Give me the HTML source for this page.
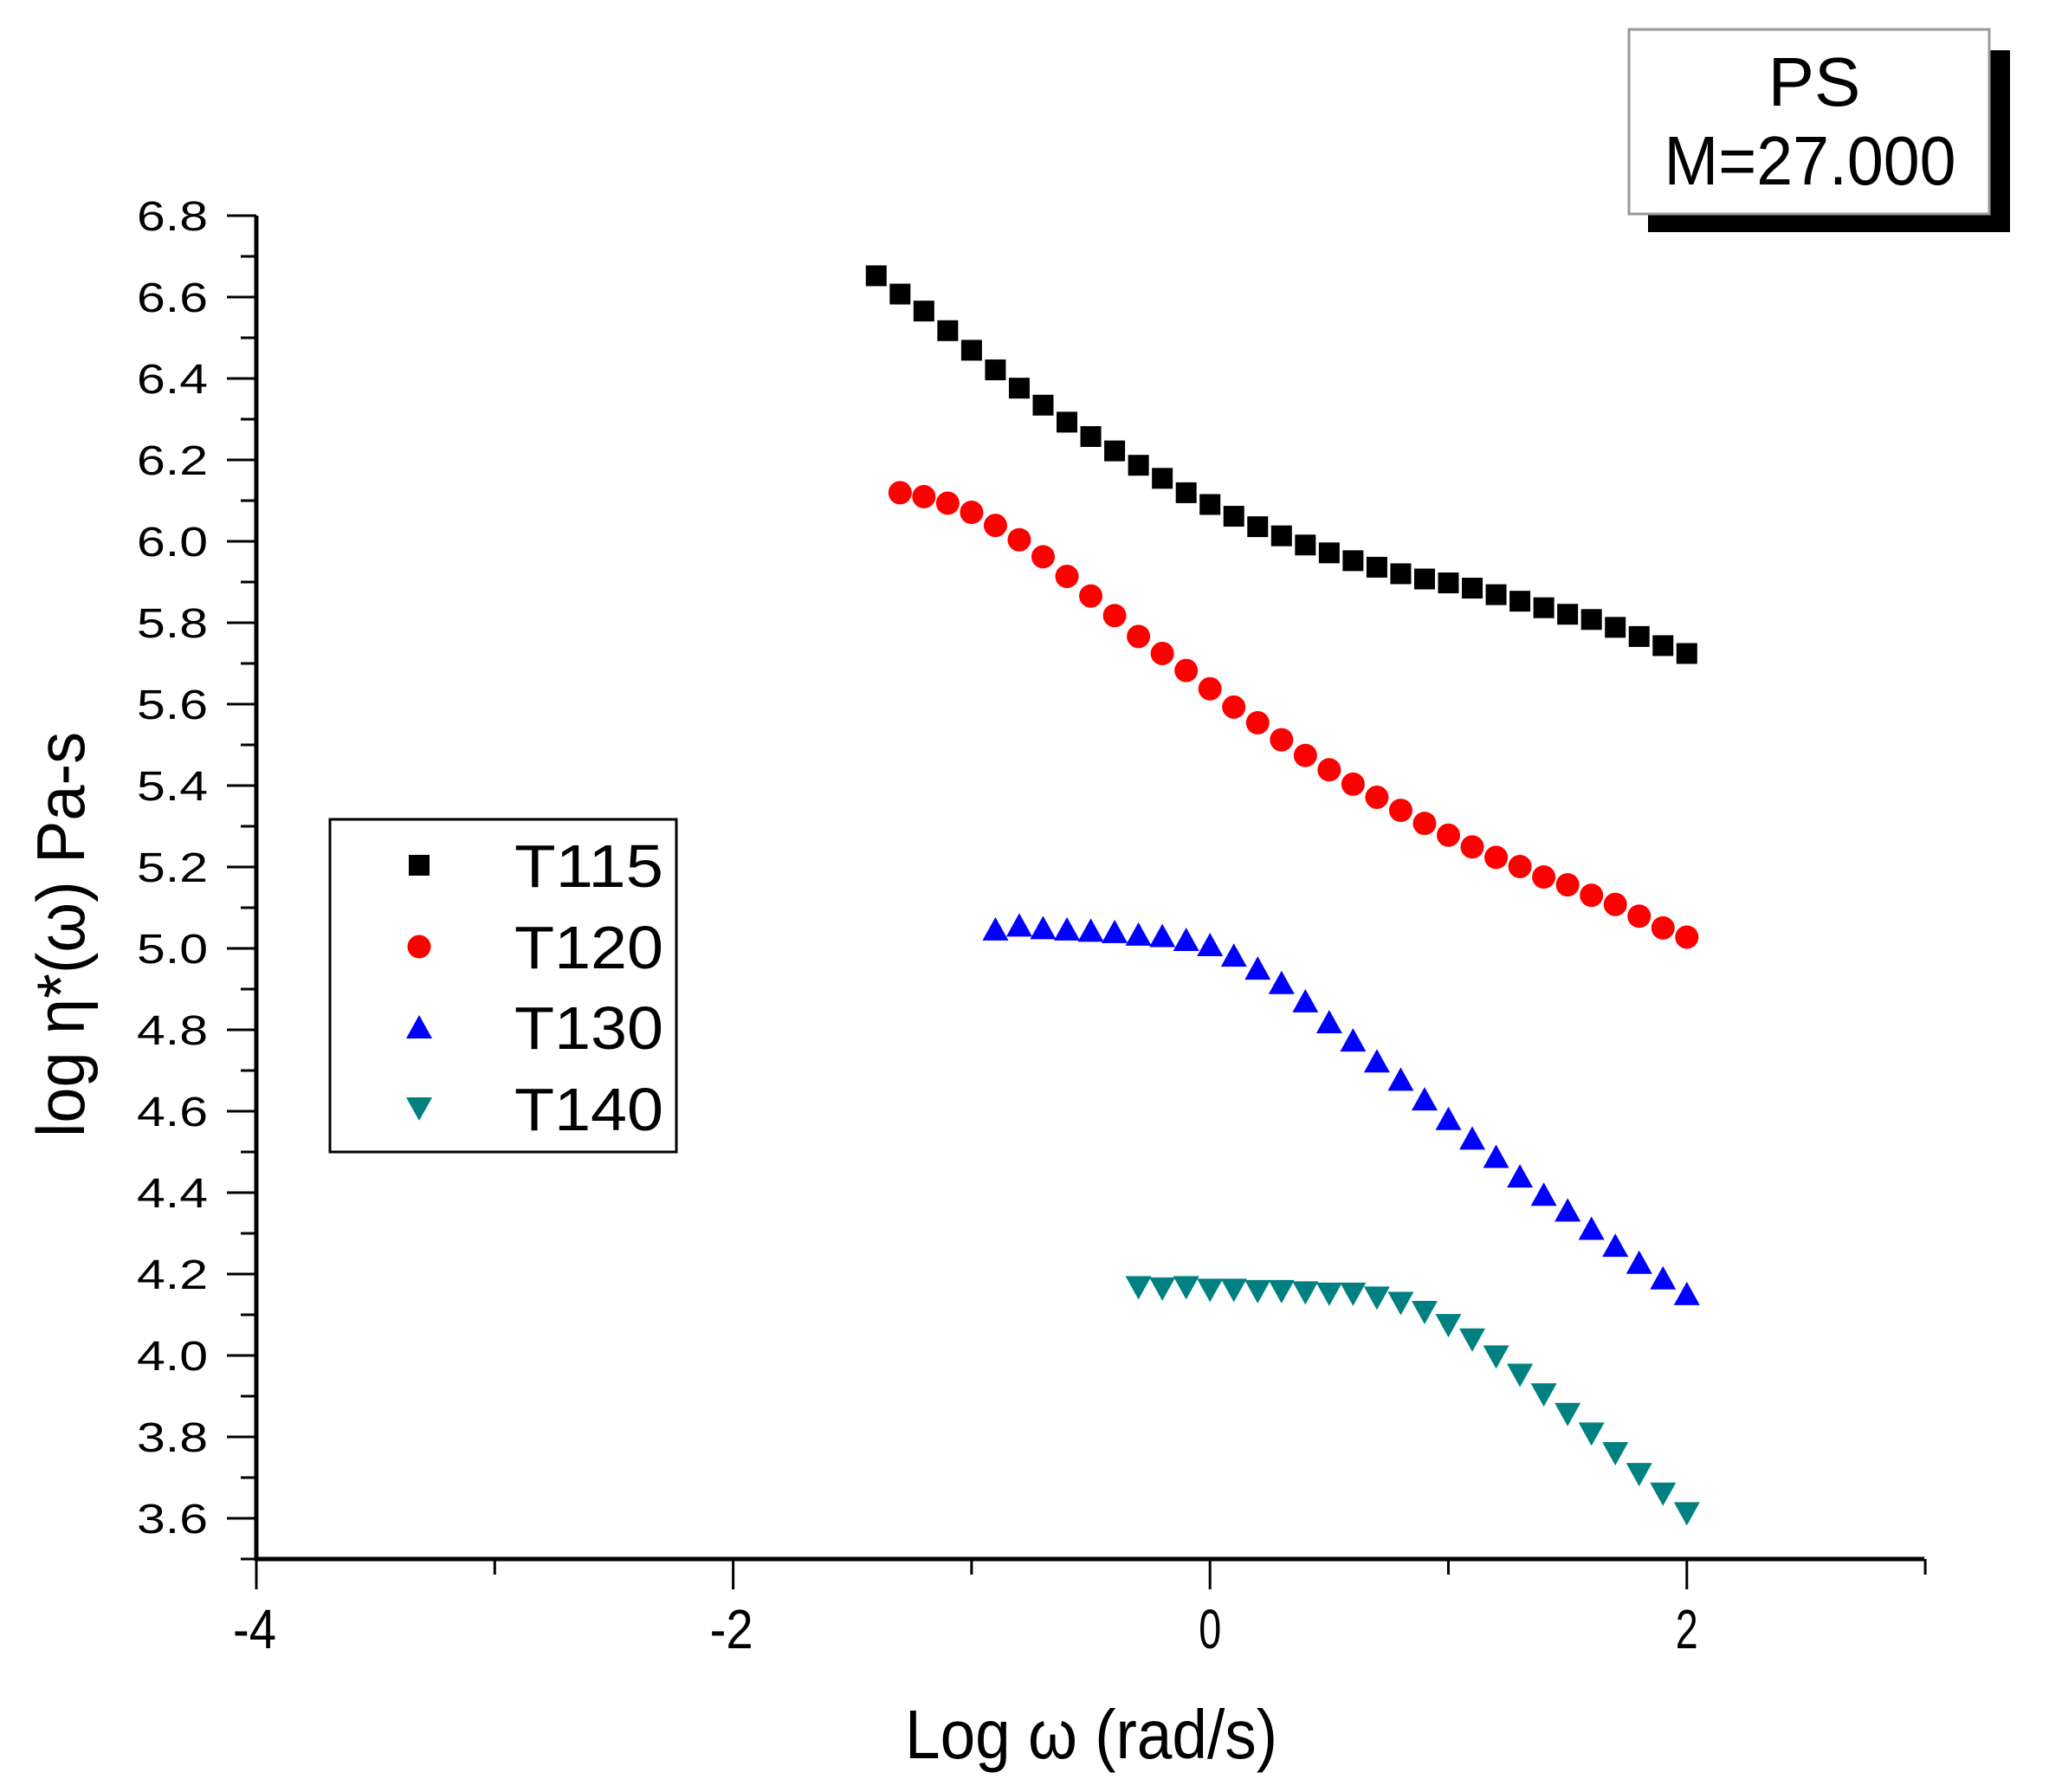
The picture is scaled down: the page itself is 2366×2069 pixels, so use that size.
<!DOCTYPE html>
<html><head><style>body{margin:0;background:#fff}svg{display:block}</style></head>
<body>
<svg width="2366" height="2069" viewBox="0 0 2366 2069" xmlns="http://www.w3.org/2000/svg" font-family="Liberation Sans, sans-serif">
<rect width="2366" height="2069" fill="#fff"/>
<g id="axes" stroke="#000" fill="none">
<line x1="296" y1="249" x2="296" y2="1802" stroke-width="5"/>
<line x1="294" y1="1800" x2="2222" y2="1800" stroke-width="5"/>
</g>
<g id="ticks"></g>
<g id="pts"></g>
<text x="1260" y="2030" font-size="80" text-anchor="middle" textLength="430" lengthAdjust="spacingAndGlyphs">Log ω (rad/s)</text>
<text transform="translate(97,1079) rotate(-90)" font-size="78" text-anchor="middle" textLength="468" lengthAdjust="spacingAndGlyphs">log η*(ω) Pa-s</text>
<rect x="381" y="946" width="400" height="384" fill="#fff" stroke="#000" stroke-width="3"/>
<g font-size="70">
<text x="594" y="1024" textLength="172" lengthAdjust="spacingAndGlyphs">T115</text>
<text x="594" y="1118" textLength="172" lengthAdjust="spacingAndGlyphs">T120</text>
<text x="594" y="1211" textLength="172" lengthAdjust="spacingAndGlyphs">T130</text>
<text x="594" y="1305" textLength="172" lengthAdjust="spacingAndGlyphs">T140</text>
</g>
<g id="leg"></g>
<rect x="1903" y="58" width="418" height="210" fill="#000"/>
<rect x="1881" y="34" width="416" height="213" fill="#fff" stroke="#999" stroke-width="3"/>
<text x="2095" y="122" font-size="80" text-anchor="middle">PS</text>
<text x="2090" y="213" font-size="80" text-anchor="middle" textLength="337" lengthAdjust="spacingAndGlyphs">M=27.000</text>
<script>
const NS="http://www.w3.org/2000/svg";
function el(p,t,a,txt){const e=document.createElementNS(NS,t);for(const k in a)e.setAttribute(k,a[k]);if(txt!==undefined)e.textContent=txt;p.appendChild(e);return e;}
const tk=document.getElementById('ticks');
const Y=v=>1753-(v-3.6)*470, X=v=>296+(v+4)*275.3;
for(let i=0;i<=33;i++){const n=35+i;const v=n/10;const y=Y(v);
 const isMaj=(n%2===0);
 el(tk,'line',{x1:isMaj?262:278,y1:y,x2:296,y2:y,stroke:'#000','stroke-width':3});
 if(isMaj&&n>=36) el(tk,'text',{x:240,y:y+17,'font-size':48,'text-anchor':'end',textLength:82,lengthAdjust:'spacingAndGlyphs'},v.toFixed(1));}
for(let v=-4;v<=3;v++){const x=X(v);const maj=(v%2===0);
 el(tk,'line',{x1:x,y1:1800,x2:x,y2:maj?1835:1818,stroke:'#000','stroke-width':3});
 if(maj) el(tk,'text',{x:x+(v<0?-2:0),y:1903,'font-size':64,'text-anchor':'middle',textLength:v<0?50:26,lengthAdjust:'spacingAndGlyphs'},String(v));}
const s=1.509;
const d115=[211,225,238,253,268,283,297,310,323,334,345,356,366,377,386,395,403,410,417,423,429,434,439,443,446,450,455,460,465,470,474,480,487,494,500];
const d120=[377,380,385,392,402,413,426,441,456,471,487,500,513,527,541,553,566,578,589,600,610,620,630,639,648,656,663,671,677,685,692,701,710,717];
const d130=[711,708,710,711,712,713,715,716,719,723,731,741,752,766,782,796,812,826,841,856,871,885,900,914,926,940,953,966,978,990];
const d140=[985,986,985,987,987,988,988,989,990,990,993,997,1004,1014,1025,1038,1052,1067,1082,1097,1112,1128,1143,1158];
const g=document.getElementById('pts');
function mk(p,type,x,y){
 if(type==0) el(p,'rect',{x:x-12,y:y-12,width:24,height:24,fill:'#000'});
 else if(type==1) el(p,'circle',{cx:x,cy:y,r:13.5,fill:'#f00'});
 else if(type==2) el(p,'polygon',{points:`${x-15},${y+13} ${x+15},${y+13} ${x},${y-14}`,fill:'#00f'});
 else el(p,'polygon',{points:`${x-15},${y-13} ${x+15},${y-13} ${x},${y+14}`,fill:'#008080'});}
[[d115,-1.4,0],[d120,-1.3,1],[d130,-0.9,2],[d140,-0.3,3]].forEach(([d,x0,t])=>{
 d.forEach((dy,i)=>mk(g,t,X(x0+i*0.1),dy*s));});
const lg=document.getElementById('leg');
[999,1093,1186,1280].forEach((y,i)=>mk(lg,i,484,y));
</script>
</svg>
</body></html>
